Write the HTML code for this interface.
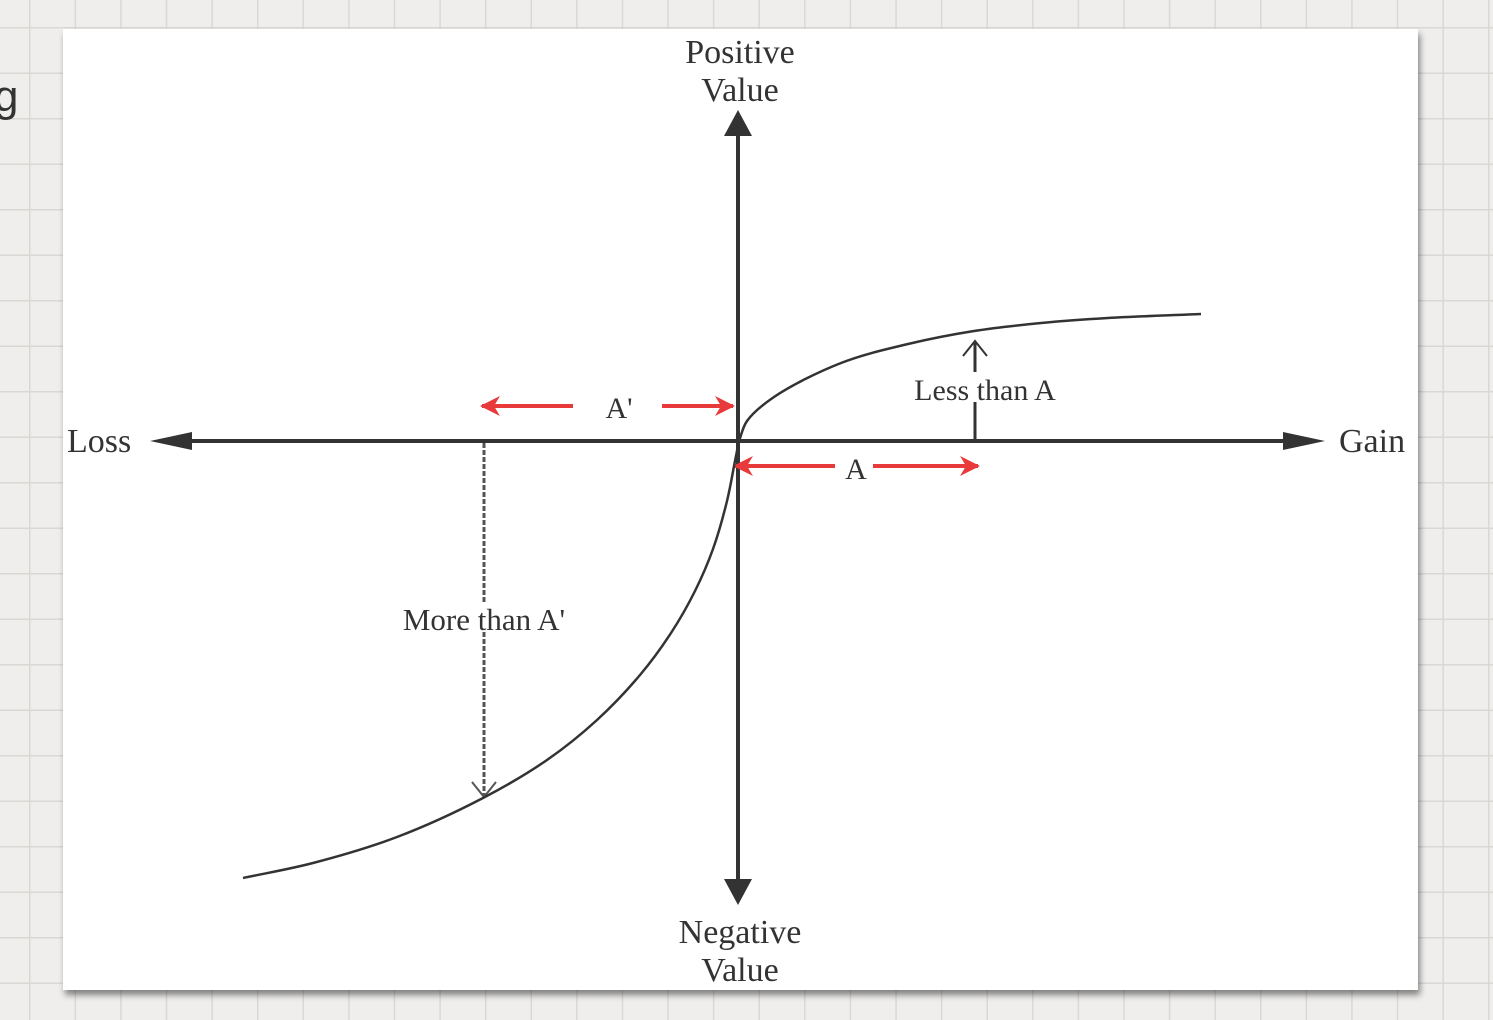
<!DOCTYPE html>
<html><head><meta charset="utf-8">
<style>
html,body{margin:0;padding:0;width:1493px;height:1020px;overflow:hidden;background:#efeeec;}
#bg{position:absolute;left:0;top:0;width:1493px;height:1020px;
background-image:linear-gradient(to right,#d9d8d5 1.5px,transparent 1.5px),linear-gradient(to bottom,#d9d8d5 1.5px,transparent 1.5px);
background-size:45.6px 45.5px;background-position:29px 27px;}
#card{position:absolute;left:63px;top:29px;width:1355px;height:961px;background:#fff;box-shadow:2px 5px 6px rgba(0,0,0,0.45);}
#g{position:absolute;left:-6px;top:72px;font:44px "Liberation Sans",sans-serif;color:#333;}
svg{position:absolute;left:0;top:0;}
text{font-family:"Liberation Serif",serif;fill:#333;}
</style></head><body>
<div id="bg"></div>
<div id="g">g</div>
<div id="card"></div>
<svg id="chart" width="1493" height="1020">
<defs>
<marker id="red" viewBox="0 0 10 10" refX="9" refY="5" markerWidth="5" markerHeight="5" orient="auto"><path d="M0,0 L10,5 L0,10 L3,5 z" fill="#e83a3a"/></marker>
</defs>
<g id="axes">
<line x1="175" y1="441" x2="1290" y2="441" stroke="#333" stroke-width="4"/>
<polygon points="150,441 192,432 192,450" fill="#333"/>
<polygon points="1325,441 1283,432 1283,450" fill="#333"/>
<line x1="738" y1="130" x2="738" y2="885" stroke="#333" stroke-width="4"/>
<polygon points="738,110 724,136 752,136" fill="#333"/>
<polygon points="738,905 724,879 752,879" fill="#333"/>
</g>
<text x="740" y="63" font-size="34" text-anchor="middle">Positive</text>
<text x="740" y="101" font-size="34" text-anchor="middle">Value</text>
<text x="740" y="943" font-size="34" text-anchor="middle">Negative</text>
<text x="740" y="981" font-size="34" text-anchor="middle">Value</text>
<text x="67" y="452" font-size="34">Loss</text>
<text x="1339" y="452" font-size="34">Gain</text>
<g>
<line x1="975" y1="441" x2="975" y2="342" stroke="#333" stroke-width="3"/>
<polyline points="963,356 975,341 987,356" fill="none" stroke="#333" stroke-width="2"/>
<rect x="903" y="372" width="164" height="30" fill="#fff"/>
<text x="985" y="400" font-size="30" text-anchor="middle">Less than A</text>
</g>
<g>
<line x1="484" y1="443" x2="484" y2="795" stroke="#555" stroke-width="3" stroke-dasharray="5,2"/>
<polyline points="472,782 484,797 496,782" fill="none" stroke="#555" stroke-width="2"/>
<rect x="393" y="602" width="182" height="30" fill="#fff"/>
<text x="484" y="630" font-size="31" text-anchor="middle">More than A'</text>
</g>
<g stroke="#e83a3a" stroke-width="4">
<line x1="573" y1="406" x2="482" y2="406" marker-end="url(#red)"/>
<line x1="662" y1="406" x2="733" y2="406" marker-end="url(#red)"/>
</g>
<text x="619" y="418" font-size="30" text-anchor="middle">A'</text>
<g stroke="#e83a3a" stroke-width="4">
<line x1="835" y1="466" x2="735" y2="466" marker-end="url(#red)"/>
<line x1="873" y1="466" x2="978" y2="466" marker-end="url(#red)"/>
</g>
<text x="856" y="479" font-size="30" text-anchor="middle">A</text>
<g id="curves"></g>
</svg>
<script>
var gainX=[0,8,35,102,169,235,302,369,462];
var gainY=[0,20,44,78,97,110,118,123,127];
var lossX=[0,-4,-12,-26,-44,-68,-99,-142,-192,-256,-342,-426,-496];
var lossY=[0,-20,-60,-108,-150,-192,-234,-279,-319,-357,-396,-422,-437];
function xs(v){return 739+v;}
function ys(v){return 441-v;}
function pathFor(X,Y){
  var P=X.map(function(x,i){return [xs(x),ys(Y[i])];});
  var n=P.length;
  var ext=[[2*P[0][0]-P[1][0],2*P[0][1]-P[1][1]]].concat(P,[[2*P[n-1][0]-P[n-2][0],2*P[n-1][1]-P[n-2][1]]]);
  function dist(a,b){return Math.pow(Math.hypot(b[0]-a[0],b[1]-a[1]),0.5)||1e-6;}
  var d='M'+P[0][0]+','+P[0][1];
  for(var i=1;i<n;i++){
    var p0=ext[i-1],p1=ext[i],p2=ext[i+1],p3=ext[i+2];
    var d1=dist(p0,p1),d2=dist(p1,p2),d3=dist(p2,p3);
    var c1=[0,0],c2=[0,0];
    for(var k=0;k<2;k++){
      c1[k]=(d1*d1*p2[k]-d2*d2*p0[k]+(2*d1*d1+3*d1*d2+d2*d2)*p1[k])/(3*d1*(d1+d2));
      c2[k]=(d3*d3*p1[k]-d2*d2*p3[k]+(2*d3*d3+3*d3*d2+d2*d2)*p2[k])/(3*d3*(d3+d2));
    }
    d+=' C'+c1[0].toFixed(2)+','+c1[1].toFixed(2)+' '+c2[0].toFixed(2)+','+c2[1].toFixed(2)+' '+p2[0]+','+p2[1];
  }
  return d;
}
var g=document.getElementById('curves');
var ns='http://www.w3.org/2000/svg';
var p1=document.createElementNS(ns,'path');
p1.setAttribute('d',pathFor(gainX,gainY));
p1.setAttribute('fill','none');p1.setAttribute('stroke','#333');p1.setAttribute('stroke-width','2.5');


g.appendChild(p1);
var p2=document.createElementNS(ns,'path');
p2.setAttribute('d',pathFor(lossX,lossY));
p2.setAttribute('fill','none');p2.setAttribute('stroke','#333');p2.setAttribute('stroke-width','2.5');


g.appendChild(p2);
</script>
</body></html>
